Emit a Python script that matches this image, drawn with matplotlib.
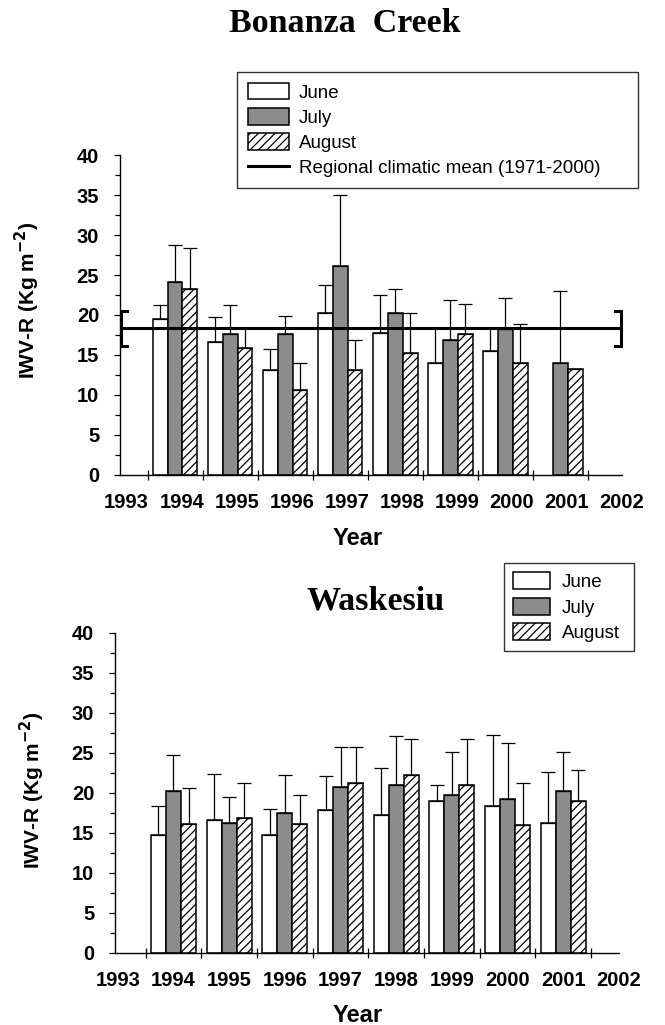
import numpy as np
import matplotlib
matplotlib.use("Agg")
import matplotlib.pyplot as plt
from matplotlib.patches import Patch
from matplotlib.lines import Line2D

years = [1994, 1995, 1996, 1997, 1998, 1999, 2000, 2001]
tick_years = list(range(1993, 2003))
months = ["June", "July", "August"]

# Bonanza Creek
bc_june = [19.5, 16.6, 13.1, 20.3, 17.7, 14.0, 15.5, np.nan]
bc_june_sd = [1.8, 3.1, 2.6, 3.5, 4.8, 4.4, 2.9, np.nan]
bc_july = [24.2, 17.6, 17.6, 26.1, 20.3, 16.9, 18.3, 14.0]
bc_july_sd = [4.6, 3.6, 2.3, 9.0, 3.0, 5.0, 3.8, 9.0]
bc_aug = [23.3, 15.8, 10.6, 13.1, 15.2, 17.6, 14.0, 13.2]
bc_aug_sd = [5.1, 2.6, 3.4, 3.8, 5.0, 3.8, 4.9, np.nan]
bc_clim_mean = 18.4
bc_clim_low = 16.1
bc_clim_high = 20.5

# Waskesiu
wa_june = [14.7, 16.6, 14.7, 17.9, 17.25, 19.0, 18.4, 16.3]
wa_june_sd = [3.7, 5.8, 3.3, 4.2, 5.85, 2.0, 8.9, 6.3]
wa_july = [20.3, 16.3, 17.5, 20.8, 21.0, 19.7, 19.3, 20.3]
wa_july_sd = [4.4, 3.2, 4.8, 5.0, 6.1, 5.4, 6.9, 4.8]
wa_aug = [16.1, 16.9, 16.1, 21.3, 22.25, 21.0, 16.0, 19.0]
wa_aug_sd = [4.5, 4.4, 3.6, 4.5, 4.45, 5.7, 5.3, 3.9]

plt.rcParams['font.family'] = ['Liberation Sans', 'DejaVu Sans']
plt.rcParams['hatch.linewidth'] = 0.9

W, H = 665, 1025
fig = plt.figure(figsize=(W / 100, H / 100), dpi=100)

GRAY = '#8c8c8c'
bw = 0.27
styles = [dict(facecolor='white', edgecolor='black'),
          dict(facecolor=GRAY, edgecolor='black'),
          dict(facecolor='white', edgecolor='black', hatch='////')]
TICK_FS = 14.5
YLAB = 'IWV-R (Kg m$^{\\mathbf{-2}}$)'


def make_axes(px_left, px_right, px_y0, px_y40):
    return fig.add_axes([px_left / W, 1 - px_y0 / H,
                         (px_right - px_left) / W, (px_y0 - px_y40) / H])


def draw_panel(ax, series, sds, xlim, label_shift):
    x = np.array(years, dtype=float)
    for i, (vals, sd, st) in enumerate(zip(series, sds, styles)):
        xi = x + (i - 1) * bw
        ax.bar(xi, vals, width=bw, linewidth=1.1, zorder=2, **st)
        sd = np.array(sd, dtype=float)
        ax.errorbar(xi, vals, yerr=[np.zeros_like(sd), sd], fmt='none',
                    ecolor='black', elinewidth=0.9, capsize=5.2,
                    capthick=0.9, zorder=3)
    ax.set_xlim(*xlim)
    ax.set_ylim(0, 40)
    ax.spines['top'].set_visible(False)
    ax.spines['right'].set_visible(False)
    for s in ('left', 'bottom'):
        ax.spines[s].set_linewidth(1.0)
    ax.set_yticks(np.arange(0, 41, 5))
    ax.set_yticks(np.arange(2.5, 40, 5), minor=True)
    ax.tick_params(axis='y', which='both', direction='out', length=4,
                   width=0.9, pad=11, labelsize=TICK_FS)
    ax.tick_params(axis='y', which='minor', length=3.5)
    for lab in ax.get_yticklabels():
        lab.set_fontweight('bold')
    # ticks between year groups, labels at the years
    ax.set_xticks([y + 0.5 for y in tick_years[:-1]])
    ax.set_xticklabels([])
    ax.set_xticks([y + label_shift for y in tick_years], minor=True)
    ax.set_xticklabels([str(y) for y in tick_years], minor=True,
                       fontweight='bold', fontsize=TICK_FS)
    ax.tick_params(axis='x', which='major', direction='inout', length=7,
                   width=0.9)
    ax.tick_params(axis='x', which='minor', length=0, pad=13)


def legend_patches():
    return [Patch(**st, linewidth=1.1) for st in styles]


# ---- Bonanza Creek ----
ax1 = make_axes(120, 622, 474.5, 155.5)
draw_panel(ax1, [bc_june, bc_july, bc_aug],
           [bc_june_sd, bc_july_sd, bc_aug_sd], (1993, 2002.04), 0.12)
x0, x1 = ax1.get_xlim()
ax1.plot([x0, x1], [bc_clim_mean, bc_clim_mean], color='black', lw=2.2,
         zorder=5, clip_on=False, solid_capstyle='butt')
serif = 0.13
ax1.plot([x0 + serif, x0 + 0.02, x0 + 0.02, x0 + serif],
         [bc_clim_high, bc_clim_high, bc_clim_low, bc_clim_low],
         color='black', lw=2.2, zorder=5, clip_on=False,
         solid_joinstyle='miter')
ax1.plot([x1 - serif, x1 - 0.02, x1 - 0.02, x1 - serif],
         [bc_clim_high, bc_clim_high, bc_clim_low, bc_clim_low],
         color='black', lw=2.2, zorder=5, clip_on=False,
         solid_joinstyle='miter')
ax1.set_ylabel(YLAB, fontsize=15, fontweight='bold')
ax1.yaxis.set_label_coords(-0.155, 0.545)
ax1.set_xlabel('Year', fontsize=17, fontweight='bold')
ax1.xaxis.set_label_coords(0.474, -0.166)

mean_handle = Line2D([], [], color='black', lw=2.2)
leg1 = fig.legend(legend_patches() + [mean_handle],
                  months + ['Regional climatic mean (1971-2000)'],
                  loc='upper left',
                  bbox_to_anchor=(237 / W, 1 - 72 / H, 401 / W, 0),
                  mode='expand', fontsize=13.5, frameon=True, fancybox=False,
                  edgecolor='#333333', framealpha=1, handlelength=2.15,
                  handleheight=0.95, labelspacing=0.35, borderpad=0.6,
                  handletextpad=0.55, borderaxespad=0)
leg1.get_frame().set_linewidth(1.0)

fig.text(345 / W, 1 - 24 / H, 'Bonanza  Creek', ha='center', va='center',
         fontsize=24.5, fontweight='bold', family='Liberation Serif')

# ---- Waskesiu ----
ax2 = make_axes(115, 619, 953, 633)
draw_panel(ax2, [wa_june, wa_july, wa_aug],
           [wa_june_sd, wa_july_sd, wa_aug_sd], (1992.95, 2002.0), 0.0)
ax2.set_ylabel(YLAB, fontsize=15, fontweight='bold')
ax2.yaxis.set_label_coords(-0.135, 0.51)
ax2.set_xlabel('Year', fontsize=17, fontweight='bold')
ax2.xaxis.set_label_coords(0.482, -0.158)

leg2 = fig.legend(legend_patches(), months, loc='upper left',
                  bbox_to_anchor=(504 / W, 1 - 563 / H, 130 / W, 0),
                  mode='expand', fontsize=13.5, frameon=True, fancybox=False,
                  edgecolor='#333333', framealpha=1, handlelength=1.97,
                  handleheight=1.0, labelspacing=0.35, borderpad=0.5,
                  handletextpad=0.6, borderaxespad=0)
leg2.get_frame().set_linewidth(1.0)

fig.text(376 / W, 1 - 601 / H, 'Waskesiu', ha='center', va='center',
         fontsize=24.5, fontweight='bold', family='Liberation Serif')

fig.savefig('out.png', dpi=100)
